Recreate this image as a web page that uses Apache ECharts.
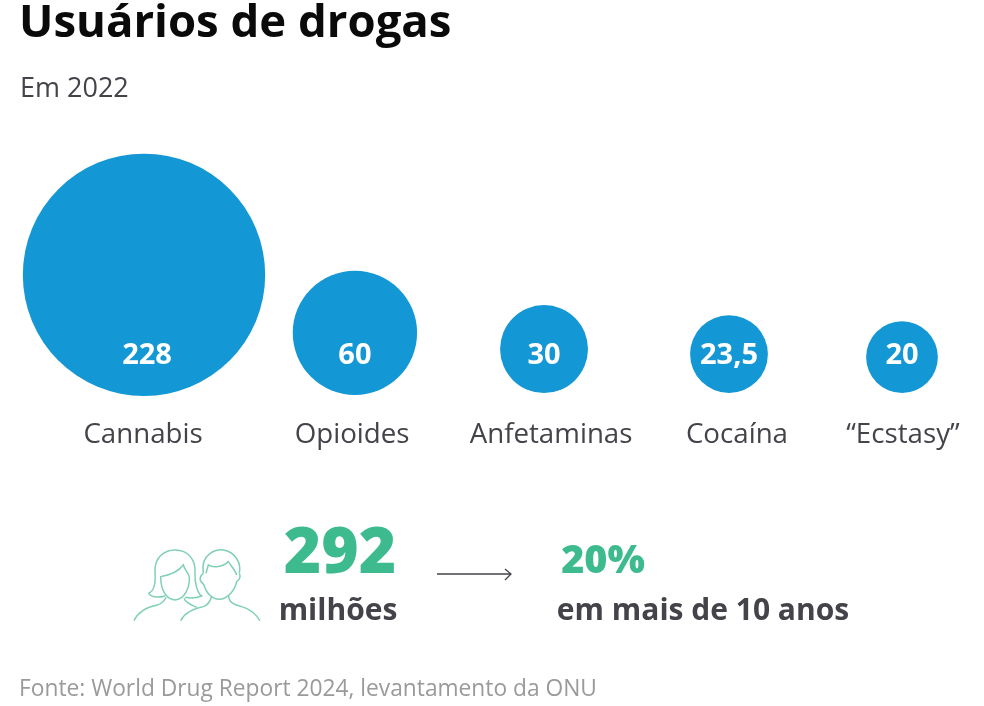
<!DOCTYPE html>
<html>
<head>
<meta charset="utf-8">
<style>
html, body { margin: 0; padding: 0; background: #fff; }
#chart { width: 984px; height: 706px; }
</style>
<script src="https://cdn.jsdelivr.net/npm/echarts@6/dist/echarts.min.js"></script>
</head>
<body>
<div id="chart"></div>
<script>
var categories = ['Cannabis', 'Opioides', 'Anfetaminas', 'Cocaína', '“Ecstasy”'];
var users = [228, 60, 30, 23.5, 20];
// horizontal place of each group, in slots (the groups are not evenly spaced)
var bubbleSlots = [0, 1.113, 2.111, 3.087, 4];
var valueSlots = [0.016, 1.113, 2.111, 3.087, 4];
var nameSlots = [-0.005, 1.098, 2.148, 3.129, 4.005];
var bubbleBases = [396, 395, 393, 393, 393];

var total = '292';
var totalUnit = 'milhões';
var growth = '20%';
var growthNote = 'em mais de 10 anos';

var FONT = '"Open Sans", "Noto Sans", sans-serif';
var BLUE = '#1397d5';
var GREEN = '#3dbb8e';
var DARK = '#434349';

var VALUE_ROW = 356, NAME_ROW = 435;

function bubbleSize(v) {
    return 16.05 * Math.sqrt(v);
}

function text(x, y, str, size, weight, color, align) {
    return {
        type: 'text',
        x: x,
        y: y,
        style: {
            text: str,
            font: weight + ' ' + size + 'px ' + FONT,
            fill: color,
            align: align || 'left',
            verticalAlign: 'middle'
        }
    };
}

var iconPath = [
    // woman
    'M85 250C100 245 108 225 105 185C103 145 130 120 165 120C205 120 228 150 225 190C224 220 232 250 245 258C230 264 212 266 195 262',
    'M122 200C150 195 175 185 190 165C195 180 205 190 208 200C210 230 195 268 165 270C135 268 122 235 122 200Z',
    'M85 250C95 262 110 265 135 258',
    'M42 332C55 305 85 290 112 285C125 282 135 270 138 262',
    'M192 265C197 280 215 285 230 292',
    // man
    'M250 190C240 130 290 118 310 120C345 125 365 160 358 190',
    'M258 190L265 165C280 175 310 170 325 155C335 170 345 180 350 195',
    'M250 190C240 197 238 208 243 215C248 220 250 222 252 225C258 250 280 270 300 268C325 265 345 240 350 215C358 210 362 200 358 190',
    'M182 332C195 305 225 295 250 290C265 285 272 270 275 258',
    'M325 258C328 280 345 285 365 290C390 297 410 315 420 332'
].join('');

var chart = echarts.init(document.getElementById('chart'));

chart.setOption({
    backgroundColor: '#ffffff',
    animation: false,
    grid: { left: 49.25, right: 6.2, top: 0, bottom: 0 },
    xAxis: { type: 'value', min: -0.5, max: 4.4, show: false },
    yAxis: { type: 'value', min: 0, max: 706, inverse: true, show: false },
    series: [
        {
            name: 'bolhas',
            type: 'scatter',
            silent: true,
            clip: false,
            itemStyle: { color: BLUE, opacity: 1 },
            data: users.map(function (v, i) {
                return {
                    value: [bubbleSlots[i], bubbleBases[i], v],
                    symbolSize: bubbleSize(v),
                    symbolOffset: [0, -bubbleSize(v) / 2]
                };
            })
        },
        {
            name: 'valores',
            type: 'scatter',
            silent: true,
            symbolSize: 1,
            itemStyle: { color: 'transparent', opacity: 1 },
            data: users.map(function (v, i) {
                return [valueSlots[i], VALUE_ROW, v];
            }),
            label: {
                show: true,
                position: 'inside',
                color: '#ffffff',
                fontFamily: FONT,
                fontWeight: 700,
                fontSize: 29,
                formatter: function (p) {
                    return String(p.value[2]).replace('.', ',');
                }
            }
        },
        {
            name: 'nomes',
            type: 'scatter',
            silent: true,
            symbolSize: 1,
            itemStyle: { color: 'transparent', opacity: 1 },
            data: categories.map(function (c, i) {
                return { name: c, value: [nameSlots[i], NAME_ROW] };
            }),
            label: {
                show: true,
                position: 'inside',
                color: DARK,
                fontFamily: FONT,
                fontSize: 27.7,
                formatter: '{b}'
            }
        },
        {
            name: 'icone',
            type: 'custom',
            coordinateSystem: 'none',
            silent: true,
            data: [0],
            renderItem: function () {
                return {
                    type: 'path',
                    shape: { pathData: iconPath, x: 134, y: 549.5, width: 126, height: 71.5 },
                    layout: 'cover',
                    style: { stroke: '#7fd0b4', lineWidth: 1.5, fill: null }
                };
            }
        }
    ],
    graphic: [
        text(19, 24, 'Usuários de drogas', 45.5, 700, '#0a0a0a'),
        text(20, 89, 'Em 2022', 27, 400, DARK),
        text(340, 555, total, 64, 800, GREEN, 'center'),
        text(338, 611, totalUnit, 30, 700, DARK, 'center'),
        text(603, 562, growth, 39.5, 800, GREEN, 'center'),
        text(703, 611, growthNote, 30, 700, DARK, 'center'),
        text(19, 690, 'Fonte: World Drug Report 2024, levantamento da ONU', 22.75, 400, '#9a9a9a'),
        {
            type: 'polyline',
            shape: { points: [[437, 574], [511, 574]] },
            style: { stroke: DARK, lineWidth: 1.3, fill: null }
        },
        {
            type: 'polyline',
            shape: { points: [[505, 569], [511, 574], [505, 580]] },
            style: { stroke: DARK, lineWidth: 1.3, fill: null }
        }
    ]
});
</script>
</body>
</html>
